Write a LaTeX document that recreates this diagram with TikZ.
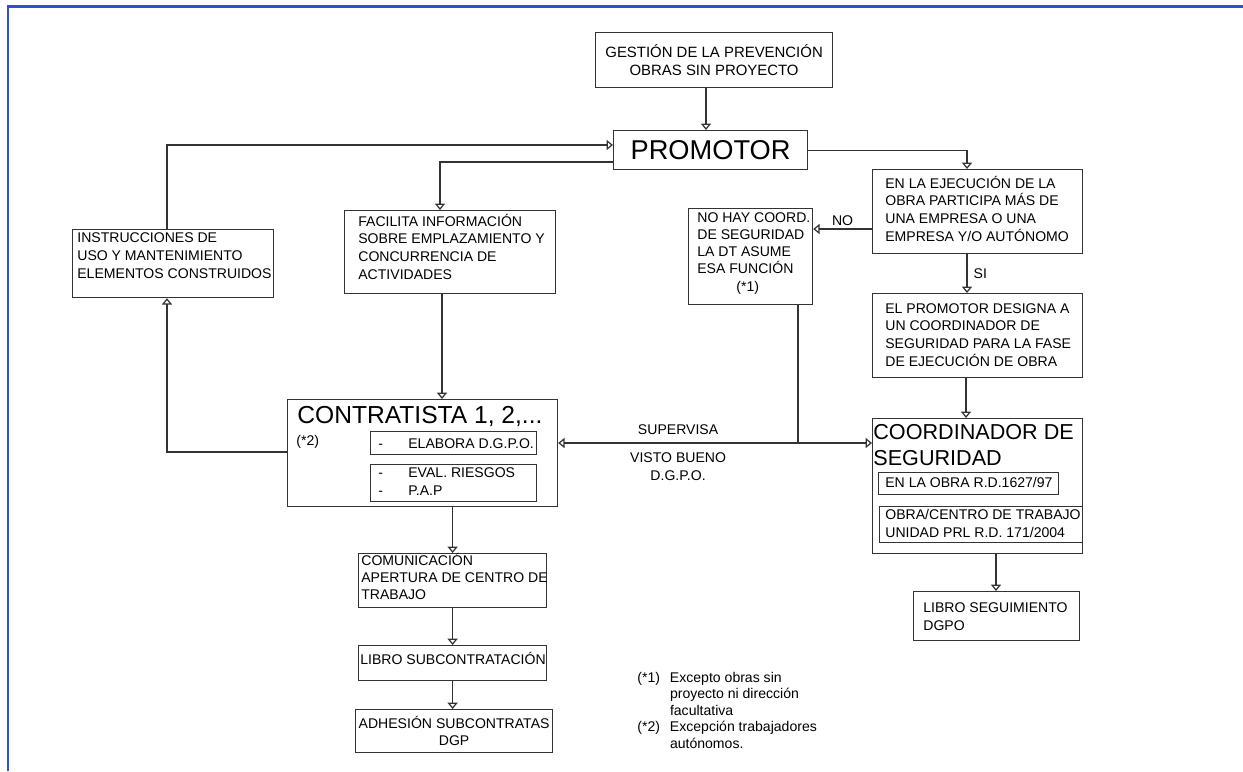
\documentclass[tikz,border=0pt]{standalone}
\usepackage{fontspec}
\setmainfont{Liberation Sans}
\usetikzlibrary{arrows.meta}

\definecolor{edgeblue}{RGB}{50,80,205}
\newcommand\fsz[2]{\fontsize{#1}{#2}\selectfont}

\begin{document}
\begin{tikzpicture}[x=0.02cm,y=-0.02cm,
  box/.style={draw=black!80, line width=0.7pt, anchor=north west, inner sep=0pt},
  txt/.style={anchor=base west, inner sep=0pt, align=left, font=\fsz{8}{10}},
  lbl/.style={inner sep=0pt, font=\fsz{8}{10}},
  con/.style={draw=black!80, line width=0.7pt},
  arr/.style={con, -{Triangle[open,width=5.7pt,length=3.6pt]}}]

\useasboundingbox (0,0) rectangle (1243,771);
% page edge
\draw[edgeblue, line width=1.2pt] (8,771) -- (8,6.5) -- (1243,6.5);

% top
\node[box, minimum width=4.74cm, minimum height=1.1cm, align=center, font=\fsz{8.5}{9.7}] (gestion) at (595,32) {GESTIÓN DE LA PREVENCIÓN\\OBRAS SIN PROYECTO};
\node[box, minimum width=3.88cm, minimum height=0.78cm, font=\fsz{15.5}{18}] (promotor) at (613,130) {PROMOTOR};

% left column (base of a text = its last line)
\node[box, minimum width=4.02cm, minimum height=1.36cm] (instr) at (72,229) {};
\node[txt] (instr-t) at (77,278) {INSTRUCCIONES DE\\USO Y MANTENIMIENTO\\ELEMENTOS CONSTRUIDOS};
\node[box, minimum width=4.22cm, minimum height=1.66cm] (facil) at (344,210) {};
\node[txt] (facil-t) at (358,279) {FACILITA INFORMACIÓN\\SOBRE EMPLAZAMIENTO Y\\CONCURRENCIA DE\\ACTIVIDADES};

% contratista
\node[box, minimum width=5.4cm, minimum height=2.14cm] (contr) at (287,399) {};
\node[txt, font=\fsz{14}{16}] (contr-t) at (297,423) {CONTRATISTA 1, 2,...};
\node[txt] (star2) at (296,445) {(*2)};
\node[box, minimum width=3.32cm, minimum height=0.46cm] (elab) at (370,431) {};
\node[txt] (elab-t) at (378,448) {\makebox[0.6cm][l]{-}ELABORA D.G.P.O.};
\node[box, minimum width=3.32cm, minimum height=0.74cm] (eval) at (370,464) {};
\node[txt] (eval-t) at (378,495) {\makebox[0.6cm][l]{-}EVAL. RIESGOS\\\makebox[0.6cm][l]{-}P.A.P};

\node[box, minimum width=3.76cm, minimum height=1.08cm] (comun) at (358,553) {};
\node[txt, font=\fsz{8}{9.4}] (comun-t) at (361,599) {COMUNICACIÓN\\APERTURA DE CENTRO DE\\TRABAJO};
\node[box, minimum width=3.76cm, minimum height=0.7cm] (librosub) at (358,645) {};
\node[txt] (librosub-t) at (360,664) {LIBRO SUBCONTRATACIÓN};
\node[box, minimum width=3.94cm, minimum height=0.86cm, align=center, font=\fsz{8}{10}] (adhes) at (355,709) {ADHESIÓN SUBCONTRATAS\\DGP};

% right column
\node[box, minimum width=2.48cm, minimum height=1.92cm] (nohay) at (688,208) {};
\node[txt, font=\fsz{8}{9.7}] (nohay-t) at (697,291) {NO HAY COORD.\\DE SEGURIDAD\\LA DT ASUME\\ESA FUNCIÓN\\\hspace*{0.78cm}(*1)};
\node[box, minimum width=4.2cm, minimum height=1.68cm] (ejec) at (872,169) {};
\node[txt] (ejec-t) at (885,241) {EN LA EJECUCIÓN DE LA\\OBRA PARTICIPA MÁS DE\\UNA EMPRESA O UNA\\EMPRESA Y/O AUTÓNOMO};
\node[box, minimum width=4.2cm, minimum height=1.68cm] (desig) at (872,293) {};
\node[txt] (desig-t) at (885,366) {EL PROMOTOR DESIGNA A\\UN COORDINADOR DE\\SEGURIDAD PARA LA FASE\\DE EJECUCIÓN DE OBRA};

\node[box, minimum width=4.2cm, minimum height=2.7cm] (coord) at (872,418) {};
\node[txt, font=\fsz{12.3}{14.8}] (coord-t) at (873,465) {COORDINADOR DE\\SEGURIDAD};
\node[box, minimum width=3.6cm, minimum height=0.44cm] (obra1) at (878,472) {};
\node[txt] (obra1-t) at (885,487) {EN LA OBRA R.D.1627/97};
\node[box, minimum width=4.06cm, minimum height=0.72cm] (obra2) at (879,506) {};
\node[txt] (obra2-t) at (885,537) {OBRA/CENTRO DE TRABAJO\\UNIDAD PRL R.D. 171/2004};
\node[box, minimum width=3.32cm, minimum height=0.98cm] (libroseg) at (913,591) {};
\node[txt] (libroseg-t) at (923,630) {LIBRO SEGUIMIENTO\\DGPO};

% notes
\node[txt, font=\fsz{8}{9.4}] (notas) at (637,682) {\begin{tabular}[t]{@{}l@{\hspace{0.2cm}}l@{}}(*1) & Excepto obras sin\\ & proyecto ni dirección\\ & facultativa\\(*2) & Excepción trabajadores\\ & autónomos.\end{tabular}};

% connectors
\draw[arr] (gestion.south -| 706,0) -- (promotor.north -| 706,0);
\draw[arr] (instr.north -| 167,0) |- (promotor.west |- 0,145);
\draw[arr] (promotor.west |- 0,162) -| (facil.north -| 440,0);
\draw[arr] (promotor.east) -| (ejec.north -| 967,0);
\draw[arr] (ejec.west |- 0,229) -- node[lbl, above=0.06cm] (lno) {NO} (nohay.east |- 0,229);
\draw[arr] (ejec.south -| 967,0) -- node[lbl, right=0.12cm] (lsi) {SI} (desig.north -| 967,0);
\draw[arr] (desig.south -| 966,0) -- (coord.north -| 966,0);
\draw[arr] (coord.south -| 996,0) -- (libroseg.north -| 996,0);
\draw[arr] (facil.south -| 442,0) -- (contr.north -| 442,0);
\draw[arr] (contr.west |- 0,452) -| (instr.south -| 167,0);
\coordinate (jn) at (798,443);
\draw[con] (nohay.south -| jn) -- (jn);
\draw[arr] (jn) -- node[lbl, above=0.16cm] (lsup) {SUPERVISA} node[lbl, below=0.18cm, align=center] (lvb) {VISTO BUENO\\D.G.P.O.} (contr.east |- jn);
\draw[arr] (jn) -- (coord.west |- jn);
\draw[arr] (contr.south -| comun.north) -- (comun.north);
\draw[arr] (comun.south) -- (librosub.north);
\draw[arr] (librosub.south) -- (adhes.north -| librosub.south);
\end{tikzpicture}
\end{document}
